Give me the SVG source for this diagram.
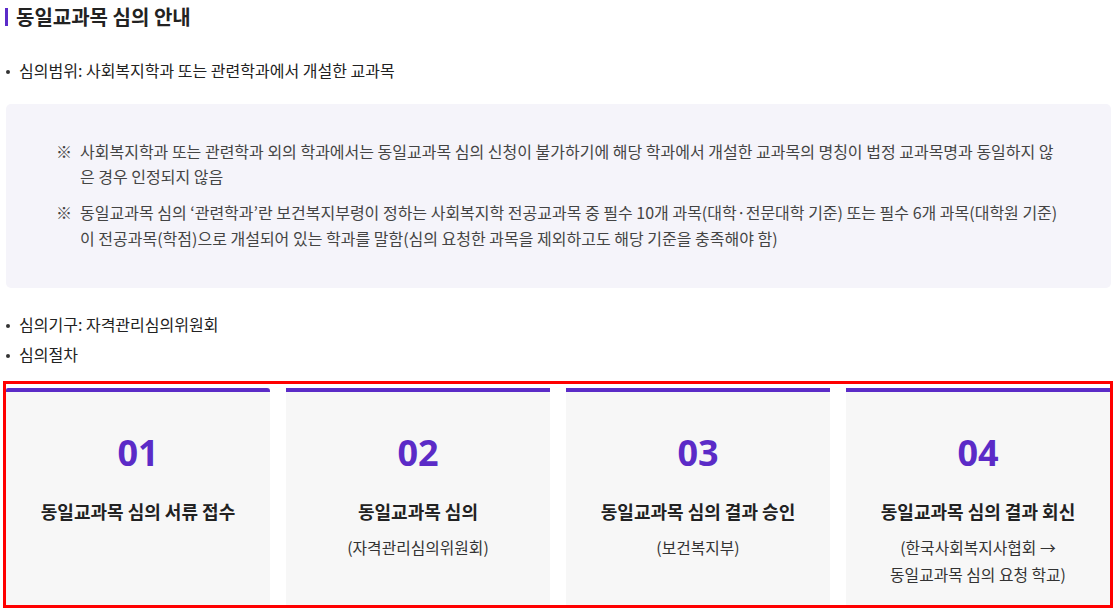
<svg xmlns="http://www.w3.org/2000/svg" width="1115" height="610" viewBox="0 0 1115 610">
<style>
text{font-family:"Noto Sans CJK KR","Noto Sans",sans-serif;}
.h{font-size:20px;font-weight:700;fill:#222;}
.b{font-size:16px;fill:#222;}
.n{font-size:16px;fill:#444;}
.num{font-family:"Noto Sans","Noto Sans CJK KR",sans-serif;font-size:36px;font-weight:700;fill:#5b2bc7;text-anchor:middle;}
.t{font-size:18px;font-weight:700;fill:#222;text-anchor:middle;}
.s{font-size:15.8px;fill:#333;text-anchor:middle;}
.card{fill:#f7f7f7;}
.bar{fill:#5b2bc7;}
</style>
<rect width="1115" height="610" fill="#fff"/>
<g id="heading">
<rect x="5" y="8" width="3" height="18" fill="#5b2bc9"/>
<text class="h" x="16" y="25">동일교과목 심의 안내</text>
</g>
<g id="scope">
<circle cx="8" cy="72" r="2" fill="#333"/>
<text class="b" x="19" y="77">심의범위: 사회복지학과 또는 관련학과에서 개설한 교과목</text>
</g>
<g id="notes">
<rect x="6" y="104" width="1105" height="184" rx="5" fill="#f5f4fa"/>
<text class="n" x="56" y="158">※</text>
<text class="n" x="80" y="158">사회복지학과 또는 관련학과 외의 학과에서는 동일교과목 심의 신청이 불가하기에 해당 학과에서 개설한 교과목의 명칭이 법정 교과목명과 동일하지 않</text>
<text class="n" x="80" y="183">은 경우 인정되지 않음</text>
<text class="n" x="56" y="219">※</text>
<text class="n" x="80" y="219">동일교과목 심의 ‘관련학과’란 보건복지부령이 정하는 사회복지학 전공교과목 중 필수 10개 과목(대학·전문대학 기준) 또는 필수 6개 과목(대학원 기준)</text>
<text class="n" x="80" y="245">이 전공과목(학점)으로 개설되어 있는 학과를 말함(심의 요청한 과목을 제외하고도 해당 기준을 충족해야 함)</text>
</g>
<g id="body">
<circle cx="8" cy="326" r="2" fill="#333"/>
<text class="b" x="19" y="331">심의기구: 자격관리심의위원회</text>
<circle cx="8" cy="356" r="2" fill="#333"/>
<text class="b" x="19" y="361">심의절차</text>
</g>
<g id="step1">
<rect class="card" x="6" y="388" width="264" height="220"/>
<path class="bar" d="M6 392 V390 A2 2 0 0 1 8 388 H267 A3 3 0 0 1 270 391 V392 Z"/>
<text class="num" x="138" y="466">01</text>
<text class="t" x="138" y="519">동일교과목 심의 서류 접수</text>
</g>
<g id="step2">
<rect class="card" x="286" y="388" width="264" height="220"/>
<rect class="bar" x="286" y="388" width="264" height="4"/>
<text class="num" x="418" y="466">02</text>
<text class="t" x="418" y="519">동일교과목 심의</text>
<text class="s" x="418" y="554">(자격관리심의위원회)</text>
</g>
<g id="step3">
<rect class="card" x="566" y="388" width="264" height="220"/>
<rect class="bar" x="566" y="388" width="264" height="4"/>
<text class="num" x="698" y="466">03</text>
<text class="t" x="698" y="519">동일교과목 심의 결과 승인</text>
<text class="s" x="698" y="554">(보건복지부)</text>
</g>
<g id="step4">
<rect class="card" x="846" y="388" width="264" height="220"/>
<rect class="bar" x="846" y="388" width="264" height="4"/>
<text class="num" x="978" y="466">04</text>
<text class="t" x="978" y="519">동일교과목 심의 결과 회신</text>
<text class="s" x="978" y="554">(한국사회복지사협회 →</text>
<text class="s" x="978" y="581">동일교과목 심의 요청 학교)</text>
</g>
<g id="connectors"></g>
<rect x="4.5" y="382.5" width="1107" height="224" fill="none" stroke="#f00" stroke-width="3"/>
</svg>
